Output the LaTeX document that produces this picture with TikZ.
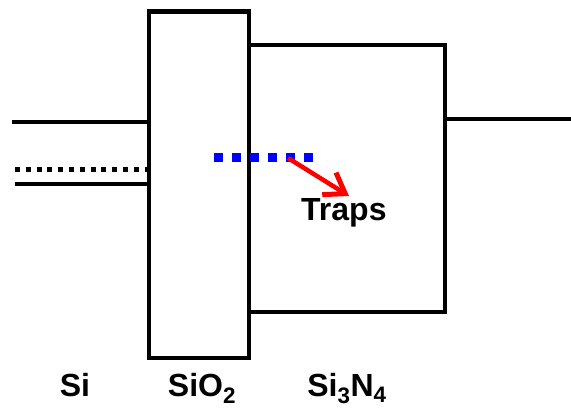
\documentclass[tikz,border=0pt]{standalone}
\usepackage{fontspec}
\setmainfont{Liberation Sans}
\usetikzlibrary{arrows.meta}
\tikzset{
  band/.style={line width=4.6pt, line cap=butt, line join=miter},
  fermi/.style={line width=5pt, dash pattern=on 5pt off 5.8pt},
  trapline/.style={line width=9pt, blue, dash pattern=on 9pt off 9pt},
  traparrow/.style={line width=4.5pt, red, -{Straight Barb[length=19pt, width=26pt, line width=5pt]}},
  label/.style={font=\fontsize{32}{35}\selectfont\bfseries, anchor=base, inner sep=0pt}
}
\begin{document}
\begin{tikzpicture}[x=1pt, y=-1pt]
  \useasboundingbox (0,0) rectangle (571,410);
  % silicon bands
  \draw[band] (12,122) -- (149,122);
  \draw[band] (15,184) -- (149,184);
  \draw[fermi] (15,169.5) -- (149,169.5);
  % oxide barrier
  \draw[band] (149,11.5) rectangle (249,358);
  % nitride layer
  \draw[band] (249,45) -- (445,45) -- (445,312) -- (249,312);
  % gate side
  \draw[band] (445,119) -- (571,119);
  % trap level and capture
  \draw[trapline] (214,157) -- (316,157);
  \coordinate (cap) at (288,158);
  \coordinate (tip) at (349,196);
  \draw[traparrow] (cap) -- (tip);
  \node[label, anchor=base west] (traps) at (301,220) {Traps};
  % layer names
  \node[label] (si) at (75,396) {Si};
  \node[label] (sio2) at (202,396) {SiO\textsubscript{2}};
  \node[label] (sin) at (347,396) {Si\textsubscript{3}N\textsubscript{4}};
\end{tikzpicture}
\end{document}
